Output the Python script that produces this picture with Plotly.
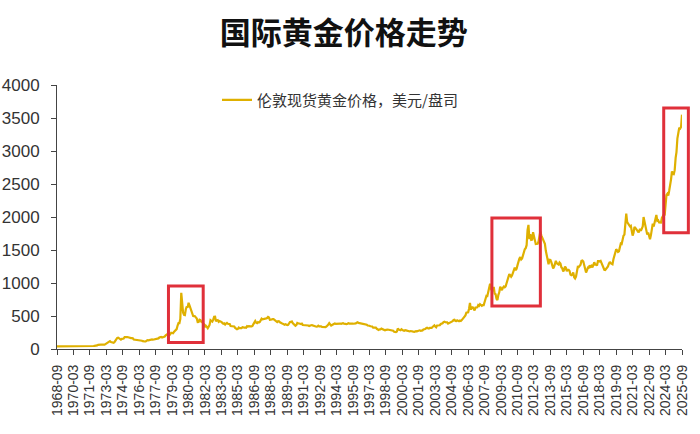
import plotly.graph_objects as go
import pandas as pd

# Monthly London spot gold price, USD/oz, starting 1968-09
prices_1968_1979 = [
    39.3, 39.3, 39.0, 41.1,
    42.3, 42.5, 43.3, 43.4, 43.5, 41.4, 41.4, 41.0, 40.9, 40.5, 37.4, 35.2,
    34.9, 35.0, 35.1, 35.6, 35.9, 35.4, 35.3, 35.4, 36.2, 37.5, 37.4, 37.4,
    37.9, 38.7, 38.9, 39.0, 40.5, 40.1, 40.9, 42.7, 42.0, 42.5, 42.9, 43.5,
    45.8, 48.3, 48.3, 49.0, 54.6, 62.1, 65.7, 67.0, 65.5, 64.9, 62.9, 63.9,
    65.1, 74.2, 84.4, 90.5, 102.0, 120.1, 120.4, 106.8, 103.0, 100.1, 94.8, 106.7,
    129.2, 150.2, 168.4, 172.2, 163.3, 154.1, 143.0, 154.6, 151.8, 158.8, 181.7, 183.9,
    175.8, 179.6, 178.2, 170.0, 167.0, 164.2, 165.2, 163.0, 144.1, 142.8, 142.8, 139.3,
    131.6, 131.3, 132.6, 128.2, 127.3, 125.7, 118.2, 109.9, 114.1, 116.0, 130.4, 133.8,
    132.3, 136.4, 148.3, 149.2, 146.7, 140.8, 143.5, 145.0, 149.5, 158.8, 162.4, 160.4,
    173.2, 178.1, 183.7, 175.2, 176.3, 183.8, 188.6, 206.0, 212.0, 227.2, 206.1, 207.8,
    227.3, 245.7, 242.1, 239.2, 257.6, 279.1, 294.8, 301.1, 355.1, 391.7, 392.5, 455.1,
]
prices_1980s = [
    850.0, 665.3, 553.6, 517.4, 513.8, 600.7, 644.3, 626.5, 700.0, 661.2, 623.5, 594.9,
    557.8, 500.1, 498.6, 495.8, 479.7, 460.8, 409.3, 410.3, 443.6, 437.8, 413.4, 410.1,
    384.0, 374.2, 330.0, 350.4, 333.9, 314.8, 338.6, 364.4, 436.1, 422.0, 415.0, 444.3,
    490.0, 491.4, 419.6, 432.8, 438.4, 412.6, 422.8, 416.2, 411.5, 393.8, 382.1, 388.1,
    370.9, 386.0, 394.7, 381.5, 377.5, 377.7, 347.9, 347.3, 341.1, 340.2, 341.2, 319.7,
    302.8, 299.1, 304.0, 324.9, 316.6, 316.8, 317.5, 329.9, 323.4, 325.0, 325.3, 321.6,
    345.2, 339.3, 346.6, 340.8, 342.7, 342.9, 348.5, 376.8, 418.0, 423.3, 398.2, 391.3,
    408.3, 401.1, 408.4, 437.8, 460.2, 449.6, 450.7, 461.2, 460.1, 464.3, 469.0, 486.5,
    477.0, 442.3, 443.6, 452.2, 451.2, 451.3, 437.5, 431.3, 413.4, 406.8, 420.2, 418.5,
    404.0, 387.9, 390.2, 384.3, 371.0, 367.6, 375.0, 365.4, 361.8, 366.9, 392.8, 409.1,
]
prices_1990s = [
    410.1, 416.7, 393.1, 374.2, 369.0, 352.3, 362.5, 394.7, 389.3, 380.7, 381.9, 378.2,
    383.7, 363.8, 363.3, 358.4, 357.4, 366.7, 367.7, 356.4, 348.7, 358.7, 359.9, 361.7,
    354.5, 353.9, 344.3, 338.6, 337.4, 340.8, 353.1, 342.7, 345.4, 344.4, 335.0, 334.8,
    329.0, 329.3, 330.1, 342.2, 367.1, 371.9, 392.0, 378.9, 355.3, 364.2, 373.6, 383.3,
    386.9, 381.9, 384.0, 377.3, 381.4, 385.6, 385.5, 380.4, 391.6, 389.8, 384.4, 379.3,
    378.6, 376.5, 382.1, 391.0, 385.1, 387.6, 386.2, 383.7, 383.0, 383.1, 385.9, 387.1,
    399.5, 404.9, 396.0, 393.0, 391.9, 385.3, 383.5, 387.4, 383.1, 381.1, 377.9, 369.0,
    355.0, 346.6, 351.8, 344.5, 343.8, 340.8, 324.0, 324.0, 322.8, 324.9, 306.0, 289.0,
    289.1, 297.5, 295.9, 308.4, 299.1, 292.3, 292.9, 284.1, 289.0, 296.1, 294.0, 291.6,
    287.1, 287.2, 285.9, 282.6, 276.4, 261.3, 256.1, 256.7, 264.7, 310.7, 293.2, 283.1,
]
prices_2000s = [
    284.3, 299.9, 286.4, 279.7, 275.2, 285.7, 281.6, 274.5, 273.7, 270.0, 266.0, 272.0,
    265.5, 261.9, 263.0, 260.5, 272.4, 270.2, 267.5, 272.4, 283.4, 283.1, 276.2, 275.9,
    281.7, 295.5, 294.0, 302.7, 314.5, 321.2, 313.3, 310.3, 319.2, 316.6, 319.2, 333.4,
    356.9, 359.0, 340.6, 328.2, 355.7, 356.4, 351.0, 359.8, 378.9, 378.9, 389.9, 407.6,
    414.0, 405.3, 406.7, 403.0, 383.8, 392.4, 398.1, 400.5, 405.3, 420.5, 439.4, 442.1,
    424.0, 423.4, 434.2, 429.2, 421.9, 430.7, 424.5, 437.9, 456.1, 469.9, 476.7, 509.8,
    549.9, 555.0, 557.1, 610.6, 700.0, 596.2, 633.7, 632.6, 598.2, 585.8, 627.8, 629.8,
    631.2, 664.8, 654.9, 679.4, 666.9, 655.5, 665.3, 665.4, 712.7, 754.6, 806.3, 803.2,
    889.6, 922.3, 990.0, 909.7, 888.7, 889.5, 939.8, 839.0, 829.9, 760.0, 740.0, 816.1,
    858.7, 943.2, 924.3, 890.2, 928.6, 945.7, 934.2, 949.4, 996.6, 1043.2, 1127.0, 1134.7,
]
prices_2010s = [
    1117.9, 1095.4, 1113.3, 1148.7, 1205.4, 1232.9, 1193.0, 1215.8, 1271.0, 1342.0, 1369.9, 1390.6,
    1356.4, 1372.7, 1424.0, 1473.8, 1510.4, 1528.7, 1572.8, 1800.0, 1880.0, 1665.2, 1738.9, 1652.3,
    1656.1, 1770.0, 1673.8, 1649.7, 1591.2, 1598.8, 1594.3, 1630.3, 1744.8, 1780.0, 1721.6, 1684.8,
    1671.9, 1627.6, 1593.1, 1487.9, 1414.0, 1343.4, 1285.5, 1351.7, 1348.6, 1316.6, 1275.8, 1221.5,
    1244.3, 1300.0, 1336.1, 1299.0, 1287.5, 1279.1, 1310.6, 1295.1, 1236.6, 1222.5, 1176.3, 1200.6,
    1250.8, 1227.1, 1178.6, 1198.9, 1198.6, 1181.5, 1128.3, 1117.9, 1124.8, 1159.3, 1086.4, 1068.3,
    1097.9, 1199.5, 1245.1, 1242.3, 1260.9, 1276.4, 1336.7, 1340.2, 1326.0, 1266.6, 1238.4, 1157.4,
    1192.1, 1234.2, 1231.4, 1266.9, 1246.0, 1260.3, 1236.8, 1283.0, 1314.1, 1279.5, 1281.9, 1264.5,
    1331.3, 1330.7, 1324.7, 1334.8, 1303.5, 1281.6, 1237.7, 1201.7, 1198.4, 1215.4, 1220.7, 1250.4,
    1291.8, 1320.1, 1300.9, 1285.9, 1283.7, 1359.0, 1412.9, 1500.4, 1510.6, 1494.8, 1470.0, 1479.1,
]
prices_2020s = [
    1560.7, 1597.1, 1591.9, 1683.2, 1715.9, 1732.2, 1846.5, 2050.0, 1921.9, 1900.3, 1866.3, 1858.4,
    1867.0, 1808.2, 1718.2, 1760.0, 1850.3, 1834.6, 1807.8, 1785.3, 1775.1, 1776.9, 1821.5, 1790.4,
    1816.0, 1856.3, 2000.0, 1936.9, 1848.5, 1836.6, 1732.7, 1764.6, 1680.0, 1664.4, 1725.1, 1797.6,
    1898.7, 1854.6, 1912.7, 2010.0, 2030.0, 1942.9, 1951.0, 1918.7, 1916.3, 1916.7, 1985.3, 2026.4,
    2033.9, 2023.2, 2158.0, 2331.6, 2351.4, 2326.8, 2398.6, 2470.2, 2570.5, 2689.8, 2650.6, 2648.0,
    2709.7, 2894.8, 2983.3, 3193.0, 3280.0, 3352.0, 3340.0, 3365.0, 3550.0,
]

prices = prices_1968_1979 + prices_1980s + prices_1990s + prices_2000s + prices_2010s + prices_2020s
dates = pd.date_range("1968-09-01", periods=len(prices), freq="MS")

tick_labels = [
    "1968-09", "1970-03", "1971-09", "1973-03", "1974-09", "1976-03", "1977-09",
    "1979-03", "1980-09", "1982-03", "1983-09", "1985-03", "1986-09", "1988-03",
    "1989-09", "1991-03", "1992-09", "1994-03", "1995-09", "1997-03", "1998-09",
    "2000-03", "2001-09", "2003-03", "2004-09", "2006-03", "2007-09", "2009-03",
    "2010-09", "2012-03", "2013-09", "2015-03", "2016-09", "2018-03", "2019-09",
    "2021-03", "2022-09", "2024-03", "2025-09",
]
tick_vals = [lbl + "-01" for lbl in tick_labels]

series_name = "伦敦现货黄金价格，美元/盘司"
title_text = "国际黄金价格走势"

# Highlight boxes (start, end, low, high)
box_x0 = ["1978-11-01", "2008-05-01", "2024-01-01"]
box_x1 = ["1982-01-01", "2012-10-01", "2026-04-01"]
box_y0 = [100, 650, 1760]
box_y1 = [955, 1985, 3650]

x_start = pd.Timestamp("1968-09-01")
x_end = pd.Timestamp("2025-09-01")


def to_frac(d):
    return (pd.Timestamp(d) - x_start) / (x_end - x_start)


fig = go.Figure()
fig.add_trace(go.Scatter(
    x=dates, y=prices, mode="lines", name=series_name,
    line=dict(color="#DFB000", width=2.2),
    showlegend=True,
))

shapes = []
for i in range(len(box_x0)):
    shapes.append(dict(
        type="rect", xref="paper", yref="y",
        x0=to_frac(box_x0[i]), x1=to_frac(box_x1[i]), y0=box_y0[i], y1=box_y1[i],
        line=dict(color="#E0303A", width=3), fillcolor="rgba(0,0,0,0)",
    ))

fig.update_layout(
    width=700, height=434,
    margin=dict(l=57, r=18, t=85, b=85),
    paper_bgcolor="white", plot_bgcolor="white",
    title=dict(text=title_text, x=0.491, xanchor="center", y=0.923, yanchor="middle",
               font=dict(family="Noto Sans CJK SC", size=31, color="#111111", weight="bold")),
    showlegend=True,
    legend=dict(x=0.256, y=0.943, xanchor="left", yanchor="middle",
                bgcolor="rgba(0,0,0,0)",
                font=dict(family="Noto Sans CJK SC", size=15, color="#333333")),
    shapes=shapes,
    xaxis=dict(
        type="date",
        range=["1968-09-01", "2025-09-01"],
        tickmode="array", tickvals=tick_vals, ticktext=tick_labels,
        tickangle=-90, ticks="outside", ticklen=5, tickcolor="#444444",
        ticklabelstandoff=4, automargin=False,
        showline=True, linecolor="#444444", linewidth=1,
        showgrid=False, zeroline=False,
        tickfont=dict(family="Liberation Sans", size=14, color="#333333"),
    ),
    yaxis=dict(
        range=[0, 4000], tickmode="array",
        tickvals=[0, 500, 1000, 1500, 2000, 2500, 3000, 3500, 4000],
        ticks="outside", ticklen=5, tickcolor="#444444",
        ticklabelstandoff=8, automargin=False,
        showline=True, linecolor="#444444", linewidth=1,
        showgrid=False, zeroline=False,
        tickfont=dict(family="Liberation Sans", size=17, color="#333333"),
    ),
)

fig.write_html("out.html", config={"displayModeBar": False},
               post_script="document.body.style.margin='0';")
